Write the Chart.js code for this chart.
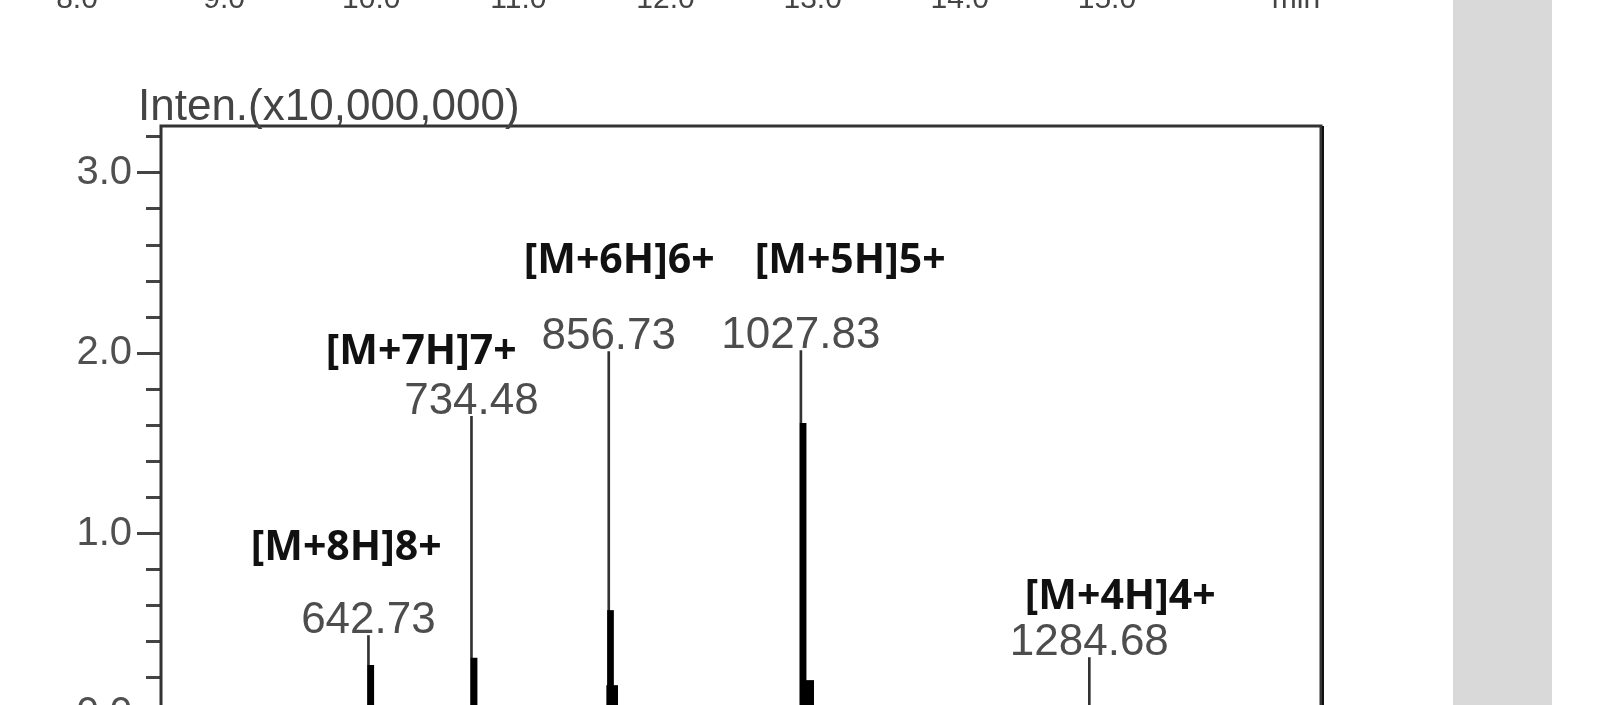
<!DOCTYPE html>
<html>
<head>
<meta charset="utf-8">
<script src="https://cdn.jsdelivr.net/npm/chart.js@4"></script>
<style>
  html, body { margin: 0; padding: 0; background: #fff; overflow: hidden; }
  #wrap { position: relative; width: 1600px; height: 705px; overflow: hidden; }
  #side { position: absolute; left: 1453px; top: 0; width: 99px; height: 705px; background: #d9d9d9; }
  canvas { position: absolute; left: 0; top: 0; }
</style>
</head>
<body>
<div id="wrap">
  <div id="side"></div>
  <canvas id="myChart" width="1600" height="760"></canvas>
</div>
<script>
// Picos do espectro (m/z) e intensidade (x10,000,000)
const peakMz = [642.73, 734.48, 856.73, 1027.83, 1284.68];
const peakIntensity = [0.435, 1.65, 2.01, 2.015, 0.313];
const ionNames = ['[M+8H]8+', '[M+7H]7+', '[M+6H]6+', '[M+5H]5+', '[M+4H]4+'];

// Envelopes isotópicos (parte grossa dos picos)
const clusterMz = [644.8, 736.8, 858.3, 1029.8];
const clusterIntensity = [0.27, 0.31, 0.574, 1.611];
const footMz = [859.8, 1034.3];
const footIntensity = [0.158, 0.186];

// Eixo do cromatograma (cortado no topo)
const timeTicks = [8.0, 9.0, 10.0, 11.0, 12.0, 13.0, 14.0, 15.0];

const toPoints = (xs, ys) => xs.map((v, i) => ({ x: v, y: ys[i] }));
const isMajor = (v) => Math.abs(v - Math.round(v)) < 1e-6;

// Plugin para moldura, título e rótulos
const spectrumDecor = {
    id: 'spectrumDecor',
    afterDraw(chart, args, opts) {
        const { ctx, chartArea: a, scales } = chart;
        const x = scales.x, y = scales.y, t = scales.xTime;
        ctx.save();

        // moldura
        ctx.strokeStyle = '#333';
        ctx.lineWidth = 3;
        ctx.beginPath();
        ctx.moveTo(a.left, a.bottom + 30);
        ctx.lineTo(a.left, a.top);
        ctx.lineTo(a.right, a.top);
        ctx.lineTo(a.right, a.bottom + 30);
        ctx.stroke();
        ctx.lineWidth = 2;
        ctx.strokeStyle = '#111';
        ctx.beginPath();
        ctx.moveTo(a.right + 2, a.top);
        ctx.lineTo(a.right + 2, a.bottom + 30);
        ctx.stroke();

        // título do eixo y
        ctx.fillStyle = '#444';
        ctx.font = '44px "Liberation Sans", Arial, sans-serif';
        ctx.textAlign = 'left';
        ctx.textBaseline = 'alphabetic';
        ctx.fillText(opts.yTitle, 138, a.top - 6);

        // rótulos do eixo de tempo cortado
        ctx.font = '30px "Liberation Sans", Arial, sans-serif';
        ctx.textAlign = 'center';
        timeTicks.forEach(v => {
            ctx.fillText(v.toFixed(1), t.getPixelForValue(v), 8);
        });
        ctx.fillText(opts.timeUnit, t.getPixelForValue(opts.timeUnitAt), 8);

        // valores m/z
        ctx.fillStyle = '#4d4d4d';
        ctx.font = '44px "Liberation Sans", Arial, sans-serif';
        ctx.textBaseline = 'middle';
        peakMz.forEach((m, i) => {
            ctx.fillText(m.toFixed(2), x.getPixelForValue(m), y.getPixelForValue(peakIntensity[i]) - 15);
        });

        // nomes dos íons
        ctx.fillStyle = '#111';
        ctx.font = 'bold 41px "Open Sans", sans-serif';
        opts.ionPos.forEach((p, i) => {
            ctx.fillText(ionNames[i], x.getPixelForValue(p.mz), y.getPixelForValue(p.inten));
        });
        ctx.restore();
    }
};

const ctx = document.getElementById('myChart').getContext('2d');

const myChart = new Chart(ctx, {
    type: 'bar',
    data: {
        datasets: [
            {
                label: 'picos',
                data: toPoints(peakMz, peakIntensity),
                backgroundColor: '#333',
                barThickness: 2,
                grouped: false,
                order: 2
            },
            {
                label: 'envelope',
                data: toPoints(clusterMz, clusterIntensity),
                backgroundColor: '#000',
                barThickness: 6,
                grouped: false,
                order: 1
            },
            {
                label: 'base',
                data: toPoints(footMz, footIntensity),
                backgroundColor: '#000',
                barThickness: 11,
                grouped: false,
                order: 0
            }
        ]
    },
    options: {
        responsive: false,
        animation: false,
        devicePixelRatio: 1,
        layout: {
            padding: { top: 126, right: 279, bottom: 46, left: 0 }
        },
        scales: {
            x: {
                type: 'linear',
                min: 458,
                max: 1491,
                offset: false,
                display: false
            },
            xTime: {
                type: 'linear',
                position: 'top',
                min: 8.571,
                max: 16.455,
                offset: false,
                display: false
            },
            y: {
                min: 0,
                max: 3.26,
                afterFit: (s) => { s.width = 161; },
                border: { display: false },
                grid: {
                    drawOnChartArea: false,
                    tickLength: 24,
                    tickWidth: 3,
                    tickColor: '#444',
                    tickBorderDash: (c) => {
                        const v = c.tick ? c.tick.value : 0;
                        return isMajor(v) ? [] : [0, 9, 60];
                    }
                },
                ticks: {
                    stepSize: 0.2,
                    autoSkip: false,
                    includeBounds: false,
                    padding: 5,
                    color: '#505050',
                    font: { family: '"Liberation Sans", Arial, sans-serif', size: 40 },
                    callback: (v) => isMajor(v) ? v.toFixed(1) : ''
                }
            }
        },
        plugins: {
            legend: { display: false },
            tooltip: { enabled: false },
            spectrumDecor: {
                yTitle: 'Inten.(x10,000,000)',
                timeUnit: 'min',
                timeUnitAt: 16.285,
                ionPos: [
                    { mz: 622.9, inten: 0.918 },
                    { mz: 689.7, inten: 2.005 },
                    { mz: 866.0, inten: 2.51 },
                    { mz: 1071.7, inten: 2.51 },
                    { mz: 1312.2, inten: 0.646 }
                ]
            }
        }
    },
    plugins: [spectrumDecor]
});
</script>
</body>
</html>
